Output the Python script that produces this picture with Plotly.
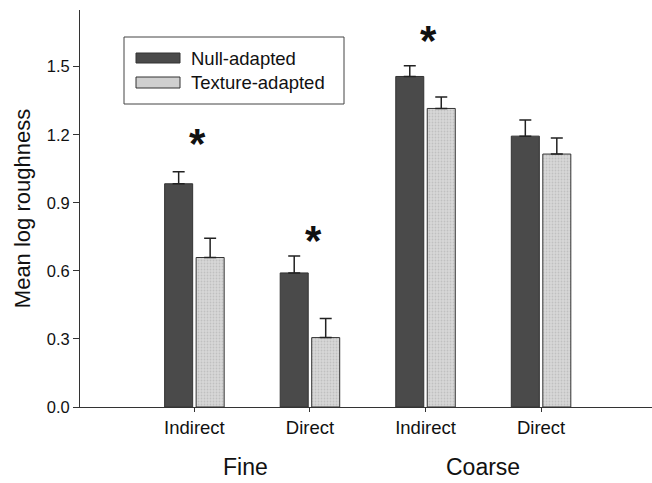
import plotly.graph_objects as go

# ---- data ----
conditions = ["Indirect", "Direct", "Indirect", "Direct"]
groups = ["Fine", "Coarse"]
null_adapted = [0.984, 0.591, 1.457, 1.194]
null_err = [0.053, 0.075, 0.047, 0.071]
texture_adapted = [0.659, 0.306, 1.316, 1.115]
texture_err = [0.085, 0.084, 0.050, 0.071]
sig_index = [0, 1, 2]
sig_level = [1.16, 0.735, 1.615]
y_ticks = [0.0, 0.3, 0.6, 0.9, 1.2, 1.5]

xpos = list(range(len(conditions)))
FONT = "Liberation Sans, Arial, sans-serif"
DARK = "#4a4a4a"
LIGHT = "#cfcfcf"
EDGE = "#333333"

fig = go.Figure()
fig.add_trace(go.Bar(
    x=xpos, y=null_adapted, name="Null-adapted",
    marker=dict(color=DARK, line=dict(color=EDGE, width=1)),
    error_y=dict(type="data", array=null_err, arrayminus=[0] * 4, symmetric=False,
                 color="#222222", thickness=1.5, width=6),
))
fig.add_trace(go.Bar(
    x=xpos, y=texture_adapted, name="Texture-adapted",
    marker=dict(color=LIGHT, line=dict(color=EDGE, width=1),
                pattern=dict(shape=".", fgcolor="#a8a8a8", bgcolor="#d8d8d8",
                             size=3, solidity=0.3)),
    error_y=dict(type="data", array=texture_err, arrayminus=[0] * 4, symmetric=False,
                 color="#222222", thickness=1.5, width=6),
))

# significance asterisks
for i, lv in zip(sig_index, sig_level):
    fig.add_annotation(x=i + 0.03, y=lv, text="<b>*</b>", showarrow=False,
                       font=dict(family=FONT, size=42, color="#111111"),
                       xanchor="center", yanchor="middle")

# group labels
for label, xc in zip(groups, [0.44, 2.5]):
    fig.add_annotation(x=xc, y=0, xref="x", yref="paper", yshift=-60,
                       text=label, showarrow=False, yanchor="middle",
                       font=dict(family=FONT, size=23, color="#111111"))

# custom legend (box + long swatches)
W, H = 652, 483
L, T, B = 80, 10, 76
pw, ph = W - L, H - T - B
def px(x): return (x - L) / pw
def py(y): return (H - B - y) / ph

fig.add_shape(type="rect", xref="paper", yref="paper",
              x0=px(124), x1=px(344), y0=py(104), y1=py(37),
              line=dict(color="#444444", width=1), fillcolor="white")
fig.add_shape(type="rect", xref="paper", yref="paper",
              x0=px(136), x1=px(180), y0=py(63), y1=py(53),
              line=dict(color=EDGE, width=1), fillcolor=DARK)
fig.add_shape(type="rect", xref="paper", yref="paper",
              x0=px(136), x1=px(180), y0=py(88), y1=py(77),
              line=dict(color=EDGE, width=1), fillcolor=LIGHT)
for name, yy in [("Null-adapted", 58), ("Texture-adapted", 82.5)]:
    fig.add_annotation(xref="paper", yref="paper", x=px(189), y=py(yy),
                       text=name, showarrow=False, xanchor="left", yanchor="middle",
                       font=dict(family=FONT, size=18.5, color="#111111"))

fig.update_layout(
    width=W, height=H,
    margin=dict(l=L, r=0, t=T, b=B),
    plot_bgcolor="white", paper_bgcolor="white",
    barmode="group", bargap=0.455, bargroupgap=0.11,
    showlegend=False,
    font=dict(family=FONT, color="#111111"),
)
fig.update_xaxes(
    range=[-0.99, 3.96], tickvals=xpos, ticktext=conditions,
    showline=True, linecolor="#333333", linewidth=1,
    ticks="outside", ticklen=4, tickcolor="#333333",
    tickfont=dict(size=18.5), showgrid=False, zeroline=False,
)
fig.update_yaxes(
    range=[0, 1.75], tickvals=y_ticks, ticktext=[f"{v:.1f}" for v in y_ticks],
    showline=True, linecolor="#333333", linewidth=1,
    ticks="outside", ticklen=6, tickcolor="#333333",
    tickfont=dict(size=16.5), showgrid=False, zeroline=False,
    title=dict(text="Mean log roughness", font=dict(size=22), standoff=10),
)

fig.write_html(
    "out.html",
    config={"displayModeBar": False},
    post_script=("document.body.style.margin='0';"
                 "document.body.style.overflow='hidden';"
                 "document.documentElement.style.overflow='hidden';"),
)
